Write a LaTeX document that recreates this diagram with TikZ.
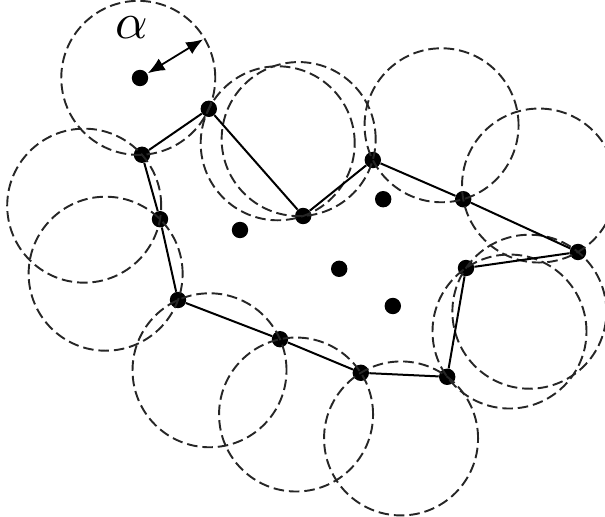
\documentclass[tikz,border=0pt]{standalone}
\usetikzlibrary{calc,arrows.meta}

\def\ralpha{1.925cm}

\tikzset{
  sample/.style={circle,fill=black,inner sep=0pt,minimum size=4.1mm},
  hull/.style={line width=0.5mm},
  probe/.style={draw=black!85,line width=0.48mm,dash pattern=on 7.5pt off 3.5pt},
  radius arrow/.style={>={Latex[length=4.2mm,width=3.4mm]},<->,line width=0.45mm}
}

\begin{document}
\begin{tikzpicture}
\useasboundingbox (0,0) rectangle (15.125,12.9);

%\draw(0,0) grid ++ (15,13);

% points on the hull
\node[sample] (A) at (3.55,9.03) {};
\node[sample] (B) at (5.22,10.18) {};
\node[sample] (C) at (7.58,7.50) {};
\node[sample] (D) at (9.32,8.90) {};
\node[sample] (E) at (11.58,7.92) {};
\node[sample] (F) at (14.45,6.60) {};
\node[sample] (G) at (11.65,6.20) {};
\node[sample] (H) at (11.18,3.48) {};
\node[sample] (I) at (9.02,3.58) {};
\node[sample] (J) at (7.00,4.42) {};
\node[sample] (K) at (4.45,5.40) {};
\node[sample] (L) at (4.00,7.42) {};

% inner points
\node[sample] (c) at (3.50,10.95) {};
\node[sample] (p1) at (6.00,7.15) {};
\node[sample] (p2) at (9.58,7.92) {};
\node[sample] (p3) at (8.48,6.18) {};
\node[sample] (p4) at (9.82,5.25) {};

% empty balls of radius alpha
\foreach \pa/\pb in {A/B,B/C,C/D,D/E,E/F,F/G,G/H,H/I,I/J,J/K,K/L,L/A}
  \draw[probe] let \p1=($(\pb)-(\pa)$), \n1={veclen(\x1,\y1)/2},
    \n2={sqrt(\ralpha*\ralpha-\n1*\n1)} in
    ($(\pa)!0.5!(\pb)!\n2!90:(\pb)$) circle (\ralpha);

\draw[hull] (A) -- (B) -- (C) -- (D) -- (E) -- (F) -- (G) -- (H) -- (I) -- (J) -- (K) -- (L) -- (A);

% radius
\coordinate (rim) at ($(c)+(31.5:1.85)$);
\draw[radius arrow, shorten <=0.5pt] (c) -- (rim);
\node[scale=3.6] (lbl) at (3.3,12.2) {$\alpha$};

\end{tikzpicture}
\end{document}
